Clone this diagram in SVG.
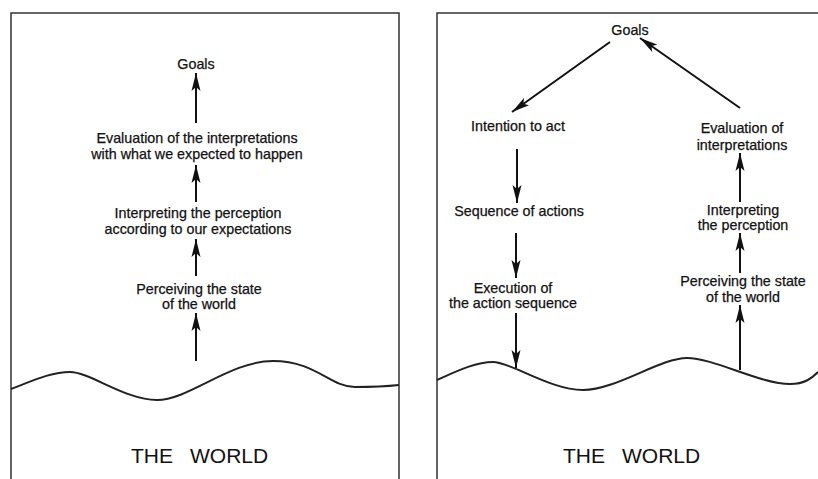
<svg xmlns="http://www.w3.org/2000/svg" width="818" height="479" viewBox="0 0 818 479">
<style>
.t{font-family:"Liberation Sans",Arial,sans-serif;font-size:14.3px;fill:#111;text-anchor:middle;stroke:#111;stroke-width:0.25}
.w{font-family:"Liberation Sans",Arial,sans-serif;font-size:21px;fill:#111;text-anchor:start}
.a{stroke:#111;stroke-width:2;fill:none;marker-end:url(#ah)}
.frame{stroke:#333;stroke-width:1.5;fill:#fff}
.wave{stroke:#222;stroke-width:2;fill:none}
</style>
<defs>
<marker id="ah" markerUnits="userSpaceOnUse" markerWidth="19" markerHeight="10" refX="18" refY="5" orient="auto">
<path d="M0,0.5 L18,5 L0,9.5 L4,5 z" fill="#111"/>
</marker>
</defs>
<rect width="818" height="479" fill="#fff"/>
<g id="panel-left">
<rect class="frame" x="11" y="13" width="388" height="470"/>
<path class="wave" d="M11,389 C30,382 50,372 70,372 S125,400 157,400 S230,361 273,361 S330,387 355,387 S390,386 399,385"/>
<text class="w" x="131" y="463">THE</text>
<text class="w" x="190" y="463">WORLD</text>
</g>
<g id="panel-right">
<rect class="frame" x="437" y="13" width="400" height="470"/>
<path class="wave" d="M437,380 C455,372 475,362 493,362 S550,390 583,390 S660,358 687,358 S760,384 790,384 C805,384 812,378 818,372"/>
<text class="w" x="563" y="463">THE</text>
<text class="w" x="622" y="463">WORLD</text>
</g>
<g id="L-goals"><text class="t" x="196" y="69">Goals</text></g>
<g id="L-eval"><text class="t" x="197" y="143">Evaluation of the interpretations</text><text class="t" x="197" y="159">with what we expected to happen</text></g>
<g id="L-interp"><text class="t" x="198" y="218">Interpreting the perception</text><text class="t" x="198" y="234">according to our expectations</text></g>
<g id="L-perc"><text class="t" x="199" y="294">Perceiving the state</text><text class="t" x="199" y="309">of the world</text></g>
<g id="R-goals"><text class="t" x="630" y="35">Goals</text></g>
<g id="R-intent"><text class="t" x="518" y="131">Intention to act</text></g>
<g id="R-seq"><text class="t" x="519" y="216">Sequence of actions</text></g>
<g id="R-exec"><text class="t" x="513" y="293">Execution of</text><text class="t" x="513" y="308">the action sequence</text></g>
<g id="R-eval"><text class="t" x="742" y="133">Evaluation of</text><text class="t" x="742" y="150">interpretations</text></g>
<g id="R-interp"><text class="t" x="743" y="215">Interpreting</text><text class="t" x="743" y="230">the perception</text></g>
<g id="R-perc"><text class="t" x="743" y="286">Perceiving the state</text><text class="t" x="743" y="302">of the world</text></g>
<g id="connectors">
<line class="a" x1="196" y1="123" x2="196" y2="73"/>
<line class="a" x1="196" y1="202" x2="196" y2="165"/>
<line class="a" x1="196" y1="276" x2="196" y2="239"/>
<line class="a" x1="196" y1="361" x2="196" y2="313"/>
<line class="a" x1="610" y1="42" x2="512" y2="112"/>
<line class="a" x1="740" y1="108" x2="640" y2="38"/>
<line class="a" x1="517" y1="149" x2="517" y2="203"/>
<line class="a" x1="516" y1="233" x2="516" y2="278"/>
<line class="a" x1="516" y1="313" x2="516" y2="368"/>
<line class="a" x1="740" y1="202" x2="740" y2="153"/>
<line class="a" x1="740" y1="273" x2="740" y2="233"/>
<line class="a" x1="740" y1="370" x2="740" y2="305"/>
</g>
</svg>
